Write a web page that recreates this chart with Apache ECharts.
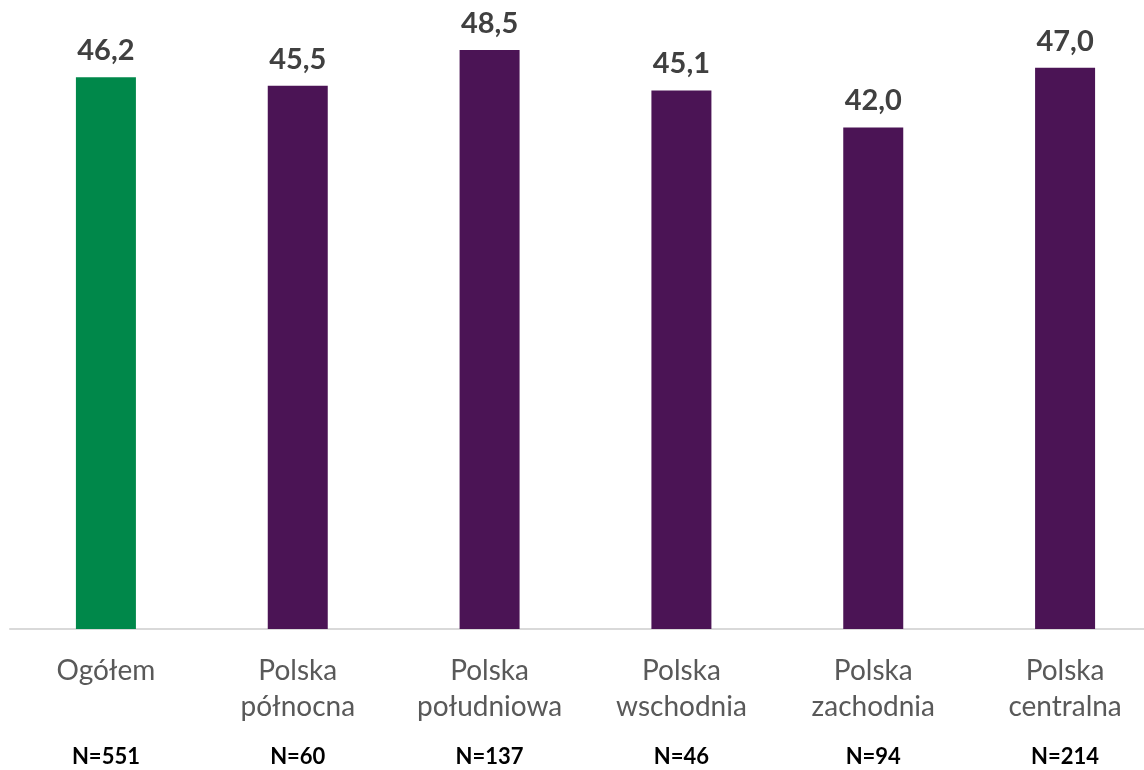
<!DOCTYPE html>
<html>
<head>
<meta charset="utf-8">
<script src="https://cdn.jsdelivr.net/npm/echarts@6/dist/echarts.min.js"></script>
<style>html,body{margin:0;padding:0;background:#fff;overflow:hidden}#c{width:1161px;height:770px}</style>
</head>
<body>
<div id="c"></div>
<script>
const categories = [["Ogółem", " "], ["Polska", "północna"], ["Polska", "południowa"], ["Polska", "wschodnia"], ["Polska", "zachodnia"], ["Polska", "centralna"]];
const sampleSizes = ["N=551", "N=60", "N=137", "N=46", "N=94", "N=214"];
const values = [46.2, 45.5, 48.5, 45.1, 42.0, 47.0];
const barColors = ["#00884A", "#4B1455", "#4B1455", "#4B1455", "#4B1455", "#4B1455"];

const chart = echarts.init(document.getElementById('c'));
const labels = categories.map((c, i) => c.map(t => '{a|' + t + '}').join('\n') + '\n{n|' + sampleSizes[i] + '}');
chart.setOption({
  animation: false,
  grid: { left: 10, right: 0, top: 32, bottom: 141, containLabel: false },
  xAxis: {
    type: 'category',
    data: labels,
    axisLine: { show: true, lineStyle: { color: '#D9D9D9', width: 2 } },
    axisTick: { show: false },
    axisLabel: {
      interval: 0,
      margin: 24,
      formatter: v => v,
      rich: {
        a: { fontFamily: 'Lato', fontSize: 28, color: '#595959', lineHeight: 36 },
        n: { fontFamily: 'Lato', fontSize: 22, fontWeight: 'bold', color: '#000000', lineHeight: 64 }
      }
    }
  },
  yAxis: {
    type: 'value', min: 0, max: 50,
    show: false,
    splitLine: { show: false }
  },
  series: [{
    type: 'bar',
    barWidth: 60,
    data: values.map((v, i) => ({ value: v, itemStyle: { color: barColors[i] } })),
    label: {
      show: true,
      position: 'top',
      distance: 12,
      fontFamily: 'Lato',
      fontWeight: 'bold',
      fontSize: 29,
      color: '#404040',
      formatter: p => p.value.toFixed(1).replace('.', ',')
    }
  }]
});
</script>
</body>
</html>
